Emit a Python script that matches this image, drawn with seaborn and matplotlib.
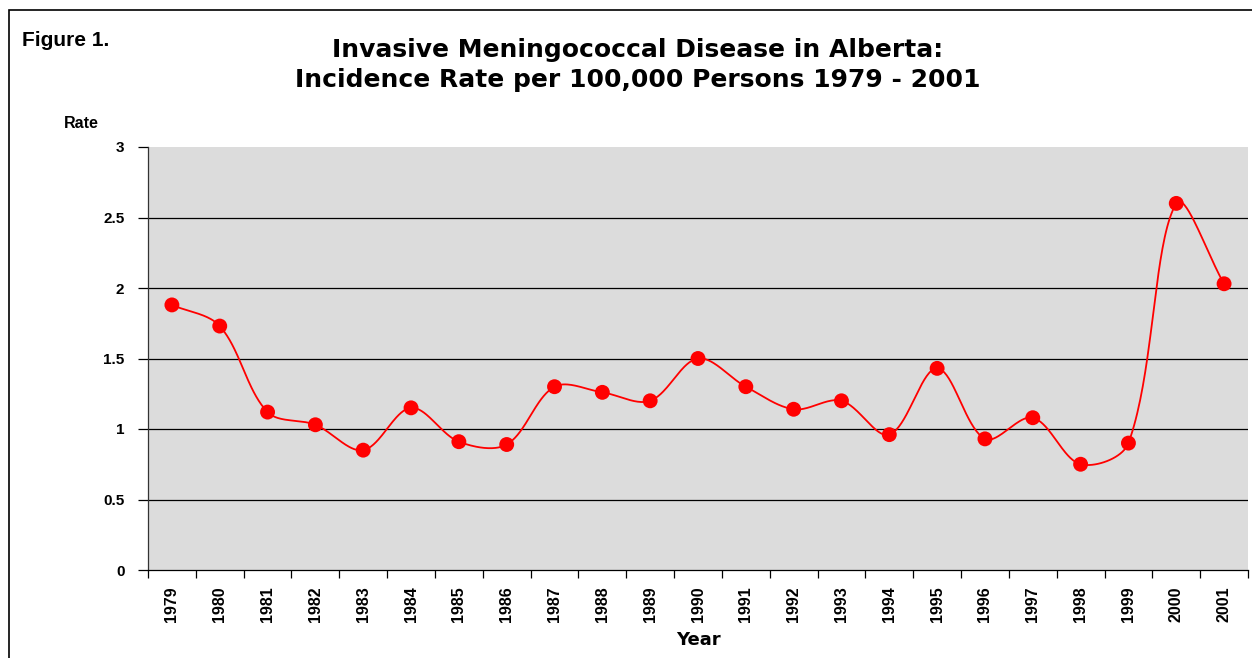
import numpy as np
import pandas as pd
import matplotlib
matplotlib.use('Agg')
import matplotlib.pyplot as plt
from matplotlib.patches import Rectangle
import seaborn as sns

years = ['1979', '1980', '1981', '1982', '1983', '1984', '1985', '1986',
         '1987', '1988', '1989', '1990', '1991', '1992', '1993', '1994',
         '1995', '1996', '1997', '1998', '1999', '2000', '2001']
rates = [1.88, 1.73, 1.12, 1.03, 0.85, 1.15, 0.91, 0.89,
         1.30, 1.26, 1.20, 1.50, 1.30, 1.14, 1.20, 0.96,
         1.43, 0.93, 1.08, 0.75, 0.90, 2.60, 2.03]
y_ticks = [0, 0.5, 1, 1.5, 2, 2.5, 3]
y_tick_labels = ['0', '0.5', '1', '1.5', '2', '2.5', '3']

sns.set_style('white')
plt.rcParams['font.family'] = ['Liberation Sans', 'DejaVu Sans']
plt.rcParams['font.weight'] = 'bold'
for k in ['text.color', 'axes.labelcolor', 'xtick.color', 'ytick.color']:
    plt.rcParams[k] = 'black'

df = pd.DataFrame({'pos': np.arange(len(years)), 'rate': rates, 'year': years})


# excel style smoothed line: bezier, tangent split by chord length (in pixels)
def smooth(xs, ys, sx=47.8, sy=141.0, n=40):
    p = np.column_stack([np.asarray(xs) * sx, np.asarray(ys) * sy]).astype(float)
    m = len(p)
    out = []
    for i in range(m - 1):
        p1, p2 = p[i], p[i + 1]
        d12 = np.linalg.norm(p2 - p1)
        if i > 0:
            d01 = np.linalg.norm(p1 - p[i - 1])
            c1 = p1 + (p2 - p[i - 1]) * d12 / (d01 + d12) / 3.0
        else:
            c1 = p1 + (p2 - p1) / 3.0
        if i + 2 < m:
            d23 = np.linalg.norm(p[i + 2] - p2)
            c2 = p2 - (p[i + 2] - p1) * d12 / (d12 + d23) / 3.0
        else:
            c2 = p2 - (p2 - p1) / 3.0
        t = np.linspace(0, 1, n)[:, None]
        seg = ((1 - t) ** 3) * p1 + 3 * ((1 - t) ** 2) * t * c1 + 3 * (1 - t) * t ** 2 * c2 + t ** 3 * p2
        out.append(seg if i == 0 else seg[1:])
    out = np.vstack(out)
    return pd.DataFrame({'pos': out[:, 0] / sx, 'rate': out[:, 1] / sy})


curve = smooth(df['pos'], df['rate'])

fig = plt.figure(figsize=(12.52, 6.58), dpi=100)
ax = fig.add_axes([148 / 1252, 88 / 658, 1100 / 1252, 423 / 658])
ax.set_facecolor('#dcdcdc')

for y in y_ticks[1:-1]:
    ax.axhline(y, color='black', lw=0.9, zorder=1)

sns.lineplot(data=curve, x='pos', y='rate', sort=False, color='#ff0000',
             lw=1.3, ax=ax, zorder=3)
sns.scatterplot(data=df, x='pos', y='rate', color='#ff0000', s=115,
                edgecolor='none', ax=ax, zorder=4)

ax.set_xlim(-0.5, len(years) - 0.5)
ax.set_ylim(0, 3)
ax.set_xticks(df['pos'])
ax.set_xticklabels(years, rotation=90, fontsize=11.5, fontweight='bold')
ax.set_xticks(np.arange(-0.5, len(years)), minor=True)
ax.tick_params(axis='x', which='major', length=0, pad=12)
ax.tick_params(axis='x', which='minor', length=6, width=0.9, color='black', direction='out', bottom=True)
ax.set_yticks(y_ticks)
ax.set_yticklabels(y_tick_labels, fontsize=11, fontweight='bold')
ax.tick_params(axis='y', length=7, width=0.9, color='black', direction='out', left=True, pad=10)

for s in ['top', 'right']:
    ax.spines[s].set_visible(False)
ax.spines['left'].set_color('#333333')
ax.spines['bottom'].set_color('black')
ax.spines['left'].set_linewidth(0.9)
ax.spines['bottom'].set_linewidth(0.9)

ax.set_xlabel('Year', fontsize=13, fontweight='bold', labelpad=6,
              family=['DejaVu Sans'])
ax.set_ylabel('')

fig.text(81 / 1252, 1 - 123 / 658, 'Rate', ha='center', va='center', fontsize=11.5, fontweight='bold')
fig.text(22 / 1252, 1 - 40 / 658, 'Figure 1.', ha='left', va='center', fontsize=15, fontweight='bold')
fig.text(638 / 1252, 1 - 65 / 658,
         'Invasive Meningococcal Disease in Alberta:\nIncidence Rate per 100,000 Persons 1979 - 2001',
         ha='center', va='center', fontsize=18, fontweight='bold', linespacing=1.3,
         family=['DejaVu Sans'])

fig.patches.append(Rectangle((9 / 1252, -0.05), 1.2, (658 - 10) / 658 + 0.05,
                             transform=fig.transFigure, fill=False, edgecolor='black', lw=1.2))

fig.savefig('out.png', dpi=100)
